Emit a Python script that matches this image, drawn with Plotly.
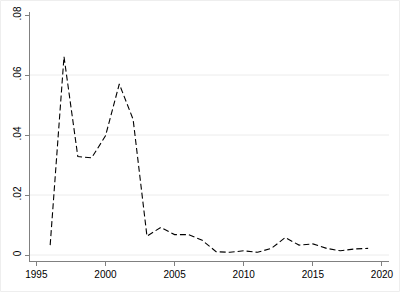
import plotly.graph_objects as go

years = list(range(1996, 2020))
values = [0.0033, 0.0661, 0.0328, 0.0324, 0.0397, 0.0570, 0.0452, 0.0063,
          0.0092, 0.0068, 0.0068, 0.0049, 0.0011, 0.0009, 0.0014, 0.0009,
          0.0022, 0.0058, 0.0033, 0.0037, 0.0022, 0.0014, 0.0020, 0.0022]

x_ticks = [1995, 2000, 2005, 2010, 2015, 2020]
y_ticks = [0, 0.02, 0.04, 0.06, 0.08]
y_labels = ["0", ".02", ".04", ".06", ".08"]

W, H = 400, 292
ml, mr, mt, mb = 30, 11, 12, 31
pw, ph = W - ml - mr, H - mt - mb

fig = go.Figure()
fig.add_trace(go.Scatter(x=years, y=values, mode="lines",
                         line=dict(color="black", width=1.1, dash="6px,3px"),
                         showlegend=False))

shapes = []
for v in y_ticks[:-1]:
    shapes.append(dict(type="line", xref="paper", yref="y", x0=0, x1=1, y0=v, y1=v,
                       line=dict(color="#ececec", width=1), layer="below"))
# outer graph-region border
shapes.append(dict(type="rect", xref="paper", yref="paper",
                   x0=(-ml + 0.5) / pw, x1=(pw + mr - 0.5) / pw,
                   y0=(-mb + 0.5) / ph, y1=(ph + mt - 0.5) / ph,
                   line=dict(color="#eeeeee", width=1), fillcolor="rgba(0,0,0,0)"))

fig.update_layout(
    width=W, height=H,
    margin=dict(l=ml, r=mr, t=mt, b=mb, autoexpand=False),
    paper_bgcolor="white", plot_bgcolor="white",
    font=dict(family="Liberation Sans, Arial, sans-serif", size=10, color="black"),
    shapes=shapes,
    xaxis=dict(range=[1994.54, 2020.51], tickvals=x_ticks, ticktext=[str(t) for t in x_ticks],
               showgrid=False, zeroline=False, showline=True, linecolor="#808080", linewidth=1,
               ticks="outside", ticklen=4, tickcolor="#808080", automargin=False),
    yaxis=dict(range=[-0.002, 0.081], tickvals=y_ticks, ticktext=y_labels, tickangle=-90,
               showgrid=False, zeroline=False, showline=True, linecolor="#808080", linewidth=1,
               ticks="outside", ticklen=4, tickcolor="#808080", automargin=False),
)

fig.write_html("out.html", config={"displayModeBar": False},
               post_script="document.body.style.margin='0';document.body.style.overflow='hidden';")
